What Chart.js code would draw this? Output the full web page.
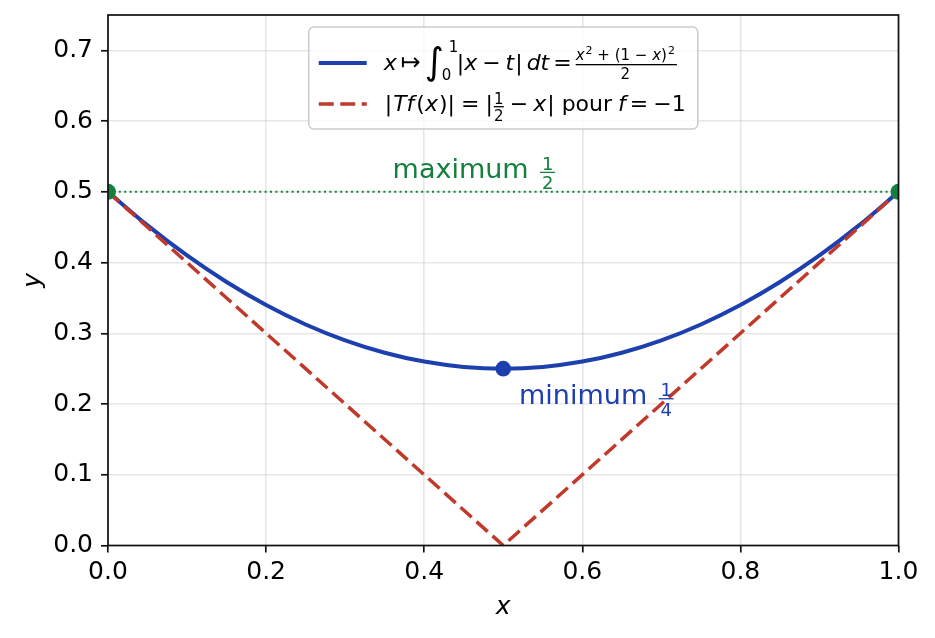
<!DOCTYPE html>
<html>
<head>
<meta charset="utf-8">
<script src="https://cdn.jsdelivr.net/npm/chart.js@4.4.0/dist/chart.umd.min.js"></script>
<style>
  html, body { margin: 0; padding: 0; background: #fff; }
</style>
</head>
<body>
<canvas id="myChart" width="935" height="638"></canvas>
<script>
// data
var xValues = [0, 0.05, 0.1, 0.15, 0.2, 0.25, 0.3, 0.35, 0.4, 0.45, 0.5,
               0.55, 0.6, 0.65, 0.7, 0.75, 0.8, 0.85, 0.9, 0.95, 1];
var curveValues = [0.5, 0.4525, 0.41, 0.3725, 0.34, 0.3125, 0.29, 0.2725, 0.26, 0.2525, 0.25,
                   0.2525, 0.26, 0.2725, 0.29, 0.3125, 0.34, 0.3725, 0.41, 0.4525, 0.5];
var vX = [0, 0.5, 1];
var vValues = [0.5, 0, 0.5];
var maxX = [0, 1];
var maxValues = [0.5, 0.5];
var minX = [0.5];
var minValues = [0.25];
var xTicks = [0, 0.2, 0.4, 0.6, 0.8, 1.0];
var xTickLabels = ["0.0", "0.2", "0.4", "0.6", "0.8", "1.0"];
var yTicks = [0, 0.1, 0.2, 0.3, 0.4, 0.5, 0.6, 0.7];
var yTickLabels = ["0.0", "0.1", "0.2", "0.3", "0.4", "0.5", "0.6", "0.7"];

var blue = "#1e40af", red = "#c0392b", green = "#15803d";
var FONT = '"DejaVu Sans", sans-serif';

function pts(xs, ys) {
  return xs.map(function (x, i) { return { x: x, y: ys[i] }; });
}

// draw a run of text, return the x where it ends
function put(ctx, text, x, y, font) {
  ctx.font = font;
  ctx.fillText(text, x, y);
  return x + ctx.measureText(text).width;
}

function frac(ctx, num, den, cx, base, size, lineW) {
  ctx.font = size + "px " + FONT;
  ctx.textAlign = "center";
  ctx.fillText(num, cx, base - size * 0.45);
  ctx.fillText(den, cx, base + size * 0.65);
  ctx.textAlign = "left";
  ctx.fillRect(cx - lineW / 2, base - size * 0.33, lineW, 1.3);
}

// frame, annotations, legend
var decor = {
  id: "decor",
  afterDatasetsDraw: function (chart) {
    var ctx = chart.ctx, a = chart.chartArea;
    var xs = chart.scales.x, ys = chart.scales.y;
    ctx.save();
    ctx.strokeStyle = "#111";
    ctx.lineWidth = 1.7;
    ctx.strokeRect(a.left, a.top, a.right - a.left, a.bottom - a.top);

    ctx.textBaseline = "alphabetic";
    ctx.textAlign = "left";
    var f27 = "27px " + FONT;

    ctx.fillStyle = green;
    var px = xs.getPixelForValue(0.36), py = ys.getPixelForValue(0.52);
    var e = put(ctx, "maximum", px, py, f27);
    frac(ctx, "1", "2", e + 19, py, 18, 15);

    ctx.fillStyle = blue;
    px = xs.getPixelForValue(0.52); py = ys.getPixelForValue(0.2);
    e = put(ctx, "minimum", px, py, f27);
    frac(ctx, "1", "4", e + 19, py, 18, 15);
    ctx.restore();
  },
  afterDraw: function (chart) {
    var ctx = chart.ctx, a = chart.chartArea;
    var W = 389, H = 102;
    var L = (a.left + a.right) / 2 - W / 2, T = a.top + 12;
    ctx.save();
    ctx.fillStyle = "rgba(255,255,255,0.8)";
    ctx.strokeStyle = "#cccccc";
    ctx.lineWidth = 1.5;
    ctx.beginPath();
    ctx.roundRect(L, T, W, H, 5);
    ctx.fill();
    ctx.stroke();

    // handles
    ctx.lineWidth = 4;
    ctx.strokeStyle = blue;
    ctx.beginPath(); ctx.moveTo(L + 10, T + 36); ctx.lineTo(L + 58, T + 36); ctx.stroke();
    ctx.lineWidth = 3.5;
    ctx.strokeStyle = red;
    ctx.setLineDash([15, 6.5]);
    ctx.beginPath(); ctx.moveTo(L + 10, T + 77); ctx.lineTo(L + 58, T + 77); ctx.stroke();
    ctx.setLineDash([]);

    var R = "22px " + FONT, I = "italic 22px " + FONT;
    var S = "15px " + FONT, SI = "italic 15px " + FONT, SS = "11px " + FONT;
    var rel = 6, bin = 5;
    ctx.fillStyle = "#000";
    ctx.textBaseline = "alphabetic";
    ctx.textAlign = "left";

    // line 1
    var y = T + 43, x;
    x = put(ctx, "x", L + 75, y, I);
    x = put(ctx, "\u21a6", x + 4, y, "24px " + FONT);
    put(ctx, "\u222b", L + 116, y + 4, "37px " + FONT);
    put(ctx, "1", L + 140, T + 25, S);
    put(ctx, "0", L + 133, T + 53, S);
    x = put(ctx, "|", L + 148, y, R);
    x = put(ctx, "x", x, y, I);
    x = put(ctx, "\u2212", x + bin, y, R);
    x = put(ctx, "t", x + bin, y, I);
    x = put(ctx, "|", x + 1, y, R);
    x = put(ctx, "dt", x + 4, y, I);
    x = put(ctx, "=", x + 4, y, R);
    var nx = x + 4, ny = T + 33;
    x = put(ctx, "x", nx, ny, SI);
    x = put(ctx, "2", x + 1, ny - 6, SS);
    x = put(ctx, " + (1 \u2212 ", x, ny, S);
    x = put(ctx, "x", x, ny, SI);
    x = put(ctx, ")", x, ny, S);
    x = put(ctx, "2", x + 1, ny - 6, SS);
    ctx.fillRect(nx, T + 37, x - nx + 2, 1.3);
    ctx.font = S;
    ctx.textAlign = "center";
    ctx.fillText("2", (nx + x) / 2, T + 52);
    ctx.textAlign = "left";

    // line 2
    y = T + 84;
    x = put(ctx, "|", L + 76, y, R);
    x = put(ctx, "T", x + 1, y, I);
    x = put(ctx, "f", x, y, I);
    x = put(ctx, "(", x + 2, y, R);
    x = put(ctx, "x", x, y, I);
    x = put(ctx, ")", x + 1, y, R);
    x = put(ctx, "|", x, y, R);
    x = put(ctx, "=", x + rel, y, R);
    x = put(ctx, "|", x + rel, y, R);
    frac(ctx, "1", "2", x + 6, T + 84, 15, 10);
    x = put(ctx, "\u2212", x + 12 + bin, y, R);
    x = put(ctx, "x", x + bin, y, I);
    x = put(ctx, "|", x + 1, y, R);
    x = put(ctx, " pour ", x, y, R);
    x = put(ctx, "f", x - 1, y, I);
    x = put(ctx, "=", x + 4, y, R);
    put(ctx, "\u22121", x + 5, y, R);
    ctx.restore();
  }
};

function noPad(s) {
  s.paddingTop = 0; s.paddingBottom = 0; s.paddingLeft = 0; s.paddingRight = 0;
}

new Chart("myChart", {
  type: "line",
  data: {
    datasets: [{
      data: pts(xValues, curveValues),
      borderColor: blue,
      borderWidth: 4,
      pointRadius: 0,
      cubicInterpolationMode: "monotone",
      fill: false,
      order: 4
    }, {
      data: pts(vX, vValues),
      borderColor: red,
      borderWidth: 3.5,
      borderDash: [15, 6.5],
      pointRadius: 0,
      fill: false,
      order: 3
    }, {
      data: pts(maxX, maxValues),
      borderColor: green,
      borderWidth: 2,
      borderDash: [2, 3.4],
      pointRadius: 0,
      fill: false,
      order: 2
    }, {
      data: pts(maxX, maxValues),
      showLine: false,
      pointRadius: 8,
      pointBackgroundColor: green,
      pointBorderWidth: 0,
      clip: 0,
      order: 1
    }, {
      data: pts(minX, minValues),
      showLine: false,
      pointRadius: 7.8,
      pointBackgroundColor: blue,
      pointBorderWidth: 0,
      order: 1
    }]
  },
  options: {
    responsive: false,
    animation: false,
    devicePixelRatio: 1,
    layout: { padding: { top: 15, right: 36.5, left: 0, bottom: 0 } },
    plugins: { legend: { display: false }, tooltip: { enabled: false } },
    scales: {
      x: {
        type: "linear",
        min: 0, max: 1,
        afterBuildTicks: function (s) { s.ticks = xTicks.map(function (v) { return { value: v }; }); },
        afterFit: function (s) { s.height = 92.5; noPad(s); },
        ticks: {
          autoSkip: false,
          maxRotation: 0,
          padding: 5,
          color: "#000",
          font: { family: FONT, size: 25 },
          callback: function (v) { return xTickLabels[xTicks.indexOf(v)]; }
        },
        grid: { color: "rgba(176,176,176,0.3)", lineWidth: 1.6, tickLength: 7, tickColor: "#111", tickWidth: 1.7 },
        border: { display: false },
        title: { display: true, text: "x", color: "#000",
                 font: { family: FONT, size: 25, style: "italic", lineHeight: 1.2 }, padding: { bottom: 16, top: 0 } }
      },
      y: {
        type: "linear",
        min: 0, max: 0.75,
        afterBuildTicks: function (s) { s.ticks = yTicks.map(function (v) { return { value: v }; }); },
        afterFit: function (s) { s.width = 108; noPad(s); },
        ticks: {
          autoSkip: false,
          padding: 8,
          color: "#000",
          font: { family: FONT, size: 25 },
          callback: function (v) { return yTickLabels[yTicks.indexOf(v)]; }
        },
        grid: { color: "rgba(176,176,176,0.3)", lineWidth: 1.6, tickLength: 7, tickColor: "#111", tickWidth: 1.7 },
        border: { display: false },
        title: { display: true, text: "y", color: "#000",
                 font: { family: FONT, size: 25, style: "italic", lineHeight: 1.2 }, padding: { top: 18, bottom: 0 } }
      }
    }
  },
  plugins: [decor]
});
</script>
</body>
</html>
